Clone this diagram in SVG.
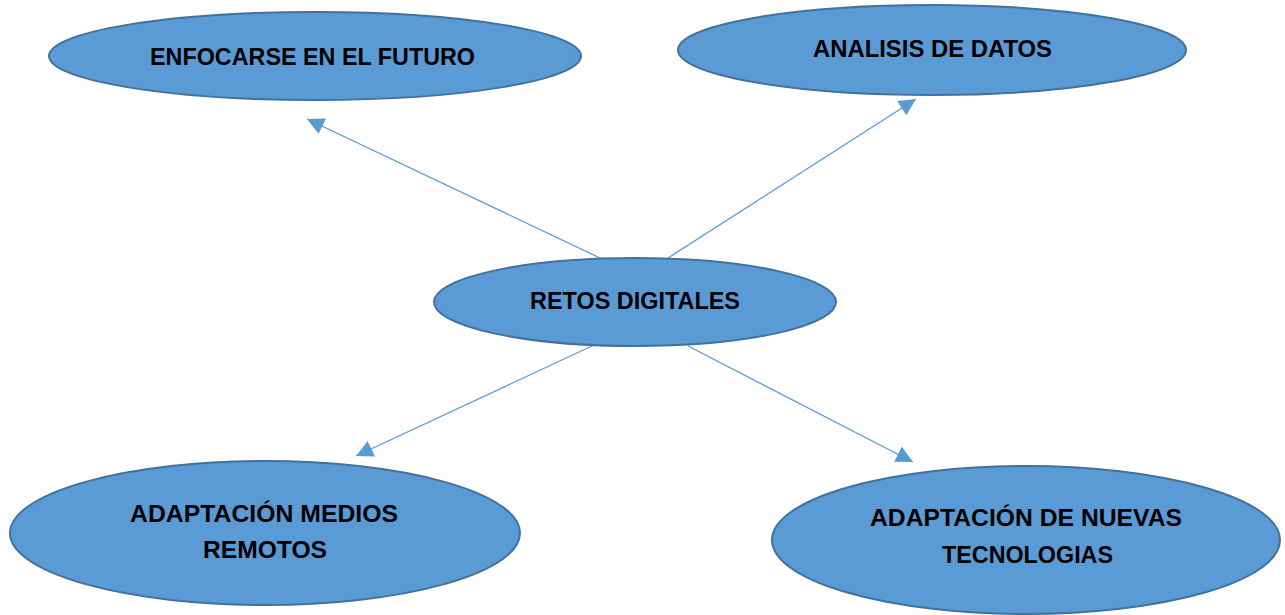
<svg xmlns="http://www.w3.org/2000/svg" width="1285" height="615" viewBox="0 0 1285 615">
<style>
.node ellipse{fill:#5B9BD5;stroke:#41719C;stroke-width:2}
.node text{font-family:"Liberation Sans",Arial,sans-serif;font-weight:bold;font-size:24.5px;fill:#000;text-anchor:middle}
.edge{stroke:#5B9BD5;stroke-width:1.3;fill:none;marker-end:url(#arr)}
</style>
<defs>
<marker id="arr" viewBox="0 0 10 10" refX="10" refY="5" markerWidth="17" markerHeight="17" markerUnits="userSpaceOnUse" orient="auto">
<path d="M0,0 L10,5 L0,10 z" fill="#5B9BD5"/>
</marker>
</defs>
<rect width="1285" height="615" fill="#fff"/>
<g id="connectors">
<line class="edge" x1="600" y1="258" x2="307" y2="119"/>
<line class="edge" x1="668" y1="258" x2="916" y2="99"/>
<line class="edge" x1="594" y1="345" x2="356" y2="456"/>
<line class="edge" x1="688" y1="346" x2="913" y2="462"/>
</g>
<g id="n-futuro" class="node">
<ellipse cx="315" cy="56" rx="266" ry="44"/>
<text x="312.5" y="65" textLength="325" lengthAdjust="spacingAndGlyphs">ENFOCARSE EN EL FUTURO</text>
</g>
<g id="n-datos" class="node">
<ellipse cx="932" cy="50" rx="254" ry="45"/>
<text x="932.5" y="57" textLength="239" lengthAdjust="spacingAndGlyphs">ANALISIS DE DATOS</text>
</g>
<g id="n-retos" class="node">
<ellipse cx="635" cy="302" rx="201" ry="44"/>
<text x="635" y="309" textLength="210" lengthAdjust="spacingAndGlyphs">RETOS DIGITALES</text>
</g>
<g id="n-remotos" class="node">
<ellipse cx="265" cy="533" rx="255" ry="72"/>
<text x="264" y="522" textLength="268" lengthAdjust="spacingAndGlyphs">ADAPTACIÓN MEDIOS</text>
<text x="265" y="558" textLength="124" lengthAdjust="spacingAndGlyphs">REMOTOS</text>
</g>
<g id="n-tecno" class="node">
<ellipse cx="1026" cy="540" rx="254" ry="74"/>
<text x="1026" y="526" textLength="312" lengthAdjust="spacingAndGlyphs">ADAPTACIÓN DE NUEVAS</text>
<text x="1027.5" y="563" textLength="171" lengthAdjust="spacingAndGlyphs">TECNOLOGIAS</text>
</g>
</svg>
